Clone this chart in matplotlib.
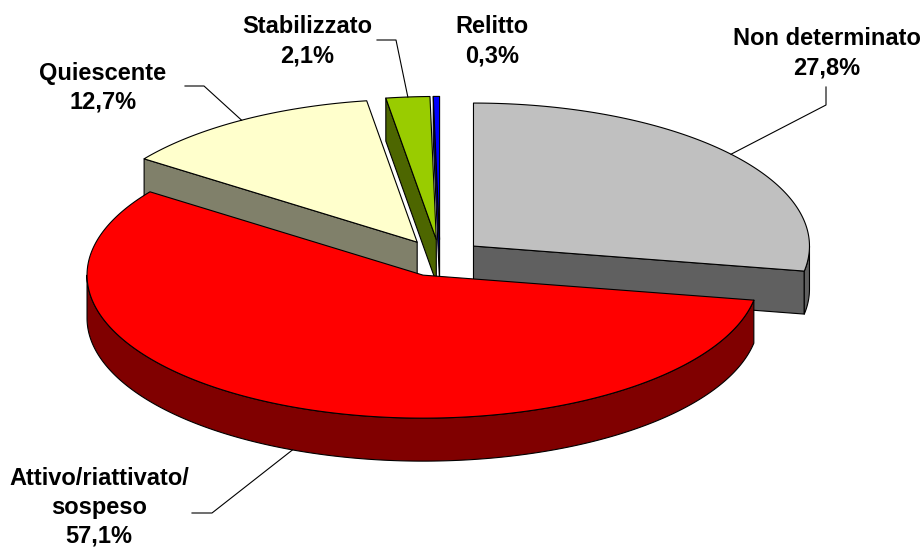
import numpy as np
import matplotlib.pyplot as plt
from matplotlib.patches import Polygon

plt.rcParams['font.family'] = ['Liberation Sans', 'DejaVu Sans']

# data
labels = ["Non determinato", "Attivo/riattivato/\nsospeso", "Quiescente", "Stabilizzato", "Relitto"]
shares = [27.8, 57.1, 12.7, 2.1, 0.3]
top_colors = ["#C0C0C0", "#FF0000", "#FFFFCC", "#99CC00", "#0000FF"]
side_colors = ["#606060", "#800000", "#80806A", "#4D6600", "#000080"]

# 3d pie geometry (pixel units of the figure)
cx, cy = 440, 258
rx, ry = 336, 143
depth = 43
explode = 0.13

# label layout: text anchor (first baseline) and leader elbows
text_pos = [(827, 45), (99, 485), (103, 80), (307, 33), (492, 33)]
line_step = 29
elbows = [[(826, 87), (826, 105)], [(192, 513), (212, 513)],
          [(185, 86), (204, 86)], [(377, 40), (396, 40)], []]

fig = plt.figure(figsize=(9.22, 5.52), dpi=100)
ax = fig.add_axes([0, 0, 1, 1])
ax.set_xlim(0, 922)
ax.set_ylim(552, 0)
ax.axis('off')

total = sum(shares)
bounds = np.concatenate([[0], np.cumsum(shares)]) / total * 360


def rim(a, ox, oy, dz=0):
    t = np.radians(a)
    return (ox + rx * np.sin(t), oy - ry * np.cos(t) + dz)


def arc(a0, a1, ox, oy, dz=0):
    ts = np.linspace(a0, a1, max(4, int(abs(a1 - a0) * 2)))
    return [rim(t, ox, oy, dz) for t in ts]


def face(pts, color):
    ax.add_patch(Polygon(pts, closed=True, facecolor=color, edgecolor='black',
                         lw=0.8, joinstyle='round'))


apexes = []
for i in range(len(shares)):
    a0, a1 = bounds[i], bounds[i + 1]
    mid = np.radians((a0 + a1) / 2)
    apexes.append((cx + explode * rx * np.sin(mid), cy - explode * ry * np.cos(mid)))

for i in [2, 3, 4, 0, 1]:
    a0, a1 = bounds[i], bounds[i + 1]
    ox, oy = apexes[i]
    for a, show in [(a0, np.sin(np.radians(a0)) < 0), (a1, np.sin(np.radians(a1)) > 0)]:
        if show:
            p = rim(a, ox, oy)
            face([(ox, oy), p, (p[0], p[1] + depth), (ox, oy + depth)], side_colors[i])
    lo, hi = max(a0, 90), min(a1, 270)
    if lo < hi:
        face(arc(lo, hi, ox, oy) + arc(lo, hi, ox, oy, depth)[::-1], side_colors[i])
    face([(ox, oy)] + arc(a0, a1, ox, oy), top_colors[i])

for i in range(len(shares)):
    lines = labels[i].split("\n") + [f"{shares[i]:.1f}%".replace('.', ',')]
    x0, y0 = text_pos[i]
    for k, line in enumerate(lines):
        ax.text(x0, y0 + k * line_step, line, ha='center', va='baseline',
                fontsize=17, fontweight='bold')
    if elbows[i]:
        mid = (bounds[i] + bounds[i + 1]) / 2
        dz = depth if np.cos(np.radians(mid)) < 0 else 0
        end = rim(mid, *apexes[i], dz)
        xs, ys = zip(*(elbows[i] + [end]))
        ax.plot(xs, ys, color='black', lw=0.8)

fig.savefig('out.png', dpi=100)
